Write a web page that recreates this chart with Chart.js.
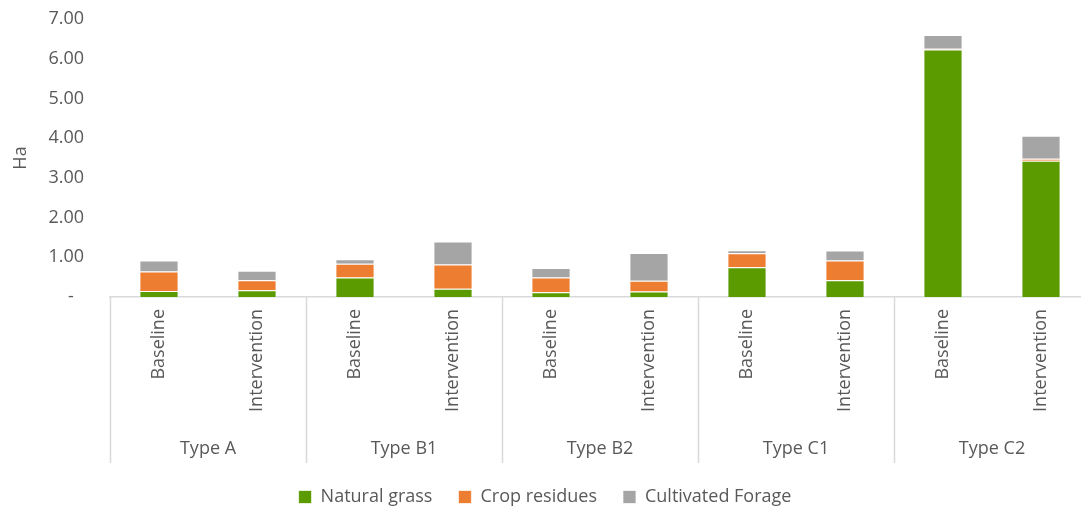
<!DOCTYPE html>
<html>
<head>
<meta charset="utf-8">
<script src="https://cdn.jsdelivr.net/npm/chart.js@4/dist/chart.umd.min.js"></script>
<style>
  html, body { margin: 0; padding: 0; background: #fff; overflow: hidden; }
  #wrap { width: 1092px; height: 509px; }
</style>
</head>
<body>
<div id="wrap"><canvas id="chart" width="1092" height="509"></canvas></div>
<script>
const groups = ["Type A", "Type B1", "Type B2", "Type C1", "Type C2"];
const scenarios = ["Baseline", "Intervention"];
const categories = groups.flatMap(() => scenarios);

const naturalGrass = [0.15, 0.17, 0.49, 0.21, 0.12, 0.14, 0.75, 0.42, 6.23, 3.43];
const cropResidues = [0.49, 0.25, 0.35, 0.61, 0.37, 0.27, 0.35, 0.50, 0.02, 0.05];
const cultivatedForage = [0.28, 0.24, 0.11, 0.58, 0.24, 0.70, 0.08, 0.25, 0.35, 0.58];

const yTicks = [0, 1, 2, 3, 4, 5, 6, 7];

const textColor = "#595959";
const lineColor = "#d9d9d9";
const fontFamily = "'Open Sans', 'Liberation Sans', sans-serif";

// group separators + group names under the rotated labels
const groupAxis = {
  id: "groupAxis",
  afterDraw(chart) {
    const ctx = chart.ctx;
    const x = chart.scales.x;
    const slot = x.getPixelForValue(1) - x.getPixelForValue(0);
    const top = x.top;
    const bottom = 463;

    ctx.save();
    ctx.strokeStyle = lineColor;
    ctx.lineWidth = 1.5;
    for (let g = 0; g <= groups.length; g++) {
      const px = Math.round(x.getPixelForValue(g * 2) - slot / 2) + 0.5;
      ctx.beginPath();
      ctx.moveTo(px, top);
      ctx.lineTo(px, bottom);
      ctx.stroke();
    }

    ctx.fillStyle = textColor;
    ctx.font = "18px " + fontFamily;
    ctx.textAlign = "center";
    ctx.textBaseline = "middle";
    groups.forEach((name, g) => {
      const cx = (x.getPixelForValue(g * 2) + x.getPixelForValue(g * 2 + 1)) / 2;
      ctx.fillText(name, cx, 449);
    });
    ctx.restore();
  }
};

function makeDataset(label, data, color) {
  return {
    label,
    data,
    backgroundColor: color,
    borderColor: "rgba(255,255,255,0.7)",
    borderWidth: 1,
    categoryPercentage: 1,
    barPercentage: 0.4
  };
}

new Chart(document.getElementById("chart"), {
  type: "bar",
  data: {
    labels: categories,
    datasets: [
      makeDataset("Natural grass", naturalGrass, "#5b9b00"),
      makeDataset("Crop residues", cropResidues, "#ed7d31"),
      makeDataset("Cultivated Forage", cultivatedForage, "#a5a5a5")
    ]
  },
  options: {
    responsive: false,
    animation: false,
    layout: { padding: { top: 19, right: 2, left: 0, bottom: -7 } },
    plugins: {
      tooltip: { enabled: false },
      legend: {
        position: "bottom",
        labels: {
          color: textColor,
          font: { size: 18, family: fontFamily },
          boxWidth: 13,
          boxHeight: 13,
          padding: 26
        }
      }
    },
    scales: {
      x: {
        stacked: true,
        grid: { display: false, drawTicks: false },
        border: { display: true, color: lineColor, width: 1.5 },
        ticks: {
          color: textColor,
          font: { size: 18, family: fontFamily },
          minRotation: 90,
          maxRotation: 90,
          autoSkip: false,
          padding: 12
        },
        afterFit(scale) { scale.height = 165; }
      },
      y: {
        stacked: true,
        min: 0,
        max: 7,
        grid: { display: false, drawTicks: false },
        border: { display: false },
        afterBuildTicks(scale) { scale.ticks = yTicks.map(v => ({ value: v })); },
        ticks: {
          color: textColor,
          font: { size: 18, family: fontFamily },
          padding: 26,
          callback: v => v === 0 ? "-\u2007" : v.toFixed(2)
        },
        title: {
          display: true,
          text: "Ha",
          color: textColor,
          font: { size: 18, family: fontFamily },
          padding: { top: 10, bottom: 0 }
        },
        afterFit(scale) {
          scale.width = 110;
          scale.paddingTop = 0;
          scale.paddingBottom = 0;
        }
      }
    }
  },
  plugins: [groupAxis]
});
</script>
</body>
</html>
